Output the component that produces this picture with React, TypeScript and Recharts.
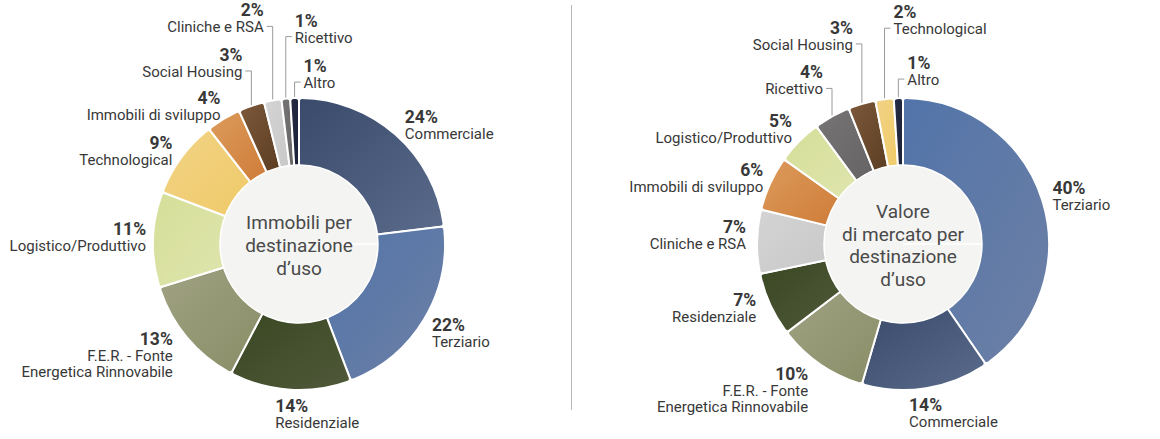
import React from "react";
import { PieChart, Pie, Cell } from "recharts";

const leftCategories = [
  "Commerciale",
  "Terziario",
  "Residenziale",
  "F.E.R. - Fonte\nEnergetica Rinnovabile",
  "Logistico/Produttivo",
  "Technological",
  "Immobili di sviluppo",
  "Social Housing",
  "Cliniche e RSA",
  "Ricettivo",
  "Altro",
];
const leftValues = [24, 22, 14, 13, 11, 9, 4, 3, 2, 1, 1];
const leftTitle = ["Immobili per", "destinazione", "d’uso"];

const rightCategories = [
  "Terziario",
  "Commerciale",
  "F.E.R. - Fonte\nEnergetica Rinnovabile",
  "Residenziale",
  "Cliniche e RSA",
  "Immobili di sviluppo",
  "Logistico/Produttivo",
  "Ricettivo",
  "Social Housing",
  "Technological",
  "Altro",
];
const rightValues = [40, 14, 10, 7, 7, 6, 5, 4, 3, 2, 1];
const rightTitle = ["Valore", "di mercato per", "destinazione", "d’uso"];

// gradient stops per category (from / to)
const COLORS: Record<string, [string, string]> = {
  Commerciale: ["#394a6b", "#5a6b8b"],
  Terziario: ["#5274a9", "#6d80a5"],
  Residenziale: ["#394722", "#50593a"],
  "F.E.R.": ["#a0a282", "#888d66"],
  Logistico: ["#d5de98", "#dfe5ae"],
  Technological: ["#f2d386", "#efca68"],
  Immobili: ["#dc9b5c", "#cf7c38"],
  Social: ["#7c583a", "#5b3d22"],
  Cliniche: ["#d4d4d4", "#c8c8c8"],
  Ricettivo: ["#767474", "#656363"],
  Altro: ["#262c45", "#1a2035"],
};

const keyOf = (name: string) => {
  const first = name.split(/[\s/]/)[0];
  return COLORS[first] ? first : name;
};
const gradId = (name: string) => "g-" + keyOf(name).replace(/[^A-Za-z]/g, "");

// label layout (not data): radial offsets or leader line lift
type LabelPos = { anchor: "start" | "end"; dx?: number; dy?: number; lift?: number };
const leftLayout: LabelPos[] = [
  { anchor: "start", dx: 9, dy: -12 },
  { anchor: "start", dx: 8, dy: 11 },
  { anchor: "start", dx: -15, dy: 22 },
  { anchor: "end", dx: -14, dy: 8 },
  { anchor: "end", dx: -7, dy: -5 },
  { anchor: "end", dx: -9, dy: -8 },
  { anchor: "end", dx: -3, dy: -15 },
  { anchor: "end", lift: 35 },
  { anchor: "end", lift: 74 },
  { anchor: "start", lift: 62 },
  { anchor: "start", lift: 16 },
];
const rightLayout: LabelPos[] = [
  { anchor: "start", dx: 10, dy: -7 },
  { anchor: "start", dx: -17, dy: 23 },
  { anchor: "end", dx: -12, dy: 16 },
  { anchor: "end", dx: -14, dy: 1 },
  { anchor: "end", dx: -11, dy: -9 },
  { anchor: "end", dx: -7, dy: -7 },
  { anchor: "end", dx: -7, dy: -15 },
  { anchor: "end", lift: 28 },
  { anchor: "end", lift: 60 },
  { anchor: "start", lift: 71 },
  { anchor: "start", lift: 19 },
];

const FONT = "Roboto, 'Noto Sans', sans-serif";
const TEXT = "#383838";
const LINE_GAP = 16;
const RADIAN = Math.PI / 180;

const makeLabel = (layout: LabelPos[]) => (props: any) => {
  const { cx, cy, midAngle, outerRadius, index, payload } = props;
  const pos = layout[index];
  const px = cx + outerRadius * Math.cos(-midAngle * RADIAN);
  const py = cy + outerRadius * Math.sin(-midAngle * RADIAN);
  const lines: string[] = String(payload.name).split("\n");
  let tx: number;
  let pb: number;
  let leader: React.ReactNode = null;
  if (pos.lift !== undefined) {
    const ty = py - pos.lift;
    const dir = pos.anchor === "end" ? -1 : 1;
    leader = (
      <polyline
        points={`${px},${py - 1} ${px},${ty} ${px + dir * 6},${ty}`}
        fill="none"
        stroke="#9a9a9a"
        strokeWidth={1}
      />
    );
    tx = px + dir * 9;
    pb = ty + 6 - LINE_GAP;
  } else {
    tx = px + (pos.dx ?? 0);
    pb = py + (pos.dy ?? 0);
  }
  return (
    <g>
      {leader}
      <text
        x={tx}
        y={pb}
        textAnchor={pos.anchor}
        fontFamily={FONT}
        fontSize={17.5}
        fontWeight={700}
        fill={TEXT}
      >
        {payload.value}%
      </text>
      {lines.map((l, i) => (
        <text
          key={i}
          x={tx}
          y={pb + LINE_GAP * (i + 1)}
          textAnchor={pos.anchor}
          fontFamily={FONT}
          fontSize={15}
          fill={TEXT}
        >
          {l}
        </text>
      ))}
    </g>
  );
};

const makeCenter = (lines: string[]) => (props: any) => {
  const { cx, cy } = props;
  const step = 22.7;
  const top = cy + 1.5 - ((lines.length - 1) * step) / 2;
  return (
    <g>
      {lines.map((l, i) => (
        <text
          key={i}
          x={cx}
          y={top + i * step}
          textAnchor="middle"
          dominantBaseline="central"
          fontFamily={FONT}
          fontSize={19}
          fill="#4a4a4a"
        >
          {l}
        </text>
      ))}
    </g>
  );
};

const leftData = leftCategories.map((name, i) => ({ name, value: leftValues[i] }));
const rightData = rightCategories.map((name, i) => ({ name, value: rightValues[i] }));
const hole = [{ name: "centro", value: 1 }];

export default function App() {
  return (
    <div style={{ position: "fixed", left: 0, top: 0, width: 1160, height: 439, background: "#fff" }}>
      <div
        style={{ position: "absolute", left: 571, top: 5, width: 1, height: 405, background: "#b8b8b8" }}
      />
      <PieChart
        width={1160}
        height={439}
        margin={{ top: 0, right: 0, bottom: 0, left: 0 }}
        style={{ position: "absolute", left: 0, top: 0 }}
      >
        <defs>
          {Object.keys(COLORS).map((k) => (
            <linearGradient key={k} id={"g-" + k.replace(/[^A-Za-z]/g, "")} x1="0" y1="0" x2="1" y2="1">
              <stop offset="0%" stopColor={COLORS[k][0]} />
              <stop offset="100%" stopColor={COLORS[k][1]} />
            </linearGradient>
          ))}
        </defs>
        <Pie
          data={leftData}
          dataKey="value"
          cx={299}
          cy={244}
          innerRadius={76}
          outerRadius={146}
          startAngle={90}
          endAngle={-270}
          stroke="#ffffff"
          strokeWidth={2}
          cornerRadius={3}
          label={makeLabel(leftLayout)}
          labelLine={false}
          isAnimationActive={false}
        >
          {leftData.map((d) => (
            <Cell key={d.name} fill={`url(#${gradId(d.name)})`} />
          ))}
        </Pie>
        <Pie
          data={hole}
          dataKey="value"
          cx={299}
          cy={244}
          innerRadius={0}
          outerRadius={79}
          fill="#f4f4f2"
          stroke="#ffffff"
          strokeWidth={1.5}
          label={makeCenter(leftTitle)}
          labelLine={false}
          isAnimationActive={false}
        />
        <Pie
          data={rightData}
          dataKey="value"
          cx={903}
          cy={244}
          innerRadius={76}
          outerRadius={146}
          startAngle={90}
          endAngle={-270}
          stroke="#ffffff"
          strokeWidth={2}
          cornerRadius={3}
          label={makeLabel(rightLayout)}
          labelLine={false}
          isAnimationActive={false}
        >
          {rightData.map((d) => (
            <Cell key={d.name} fill={`url(#${gradId(d.name)})`} />
          ))}
        </Pie>
        <Pie
          data={hole}
          dataKey="value"
          cx={903}
          cy={244}
          innerRadius={0}
          outerRadius={79}
          fill="#f4f4f2"
          stroke="#ffffff"
          strokeWidth={1.5}
          label={makeCenter(rightTitle)}
          labelLine={false}
          isAnimationActive={false}
        />
      </PieChart>
    </div>
  );
}
